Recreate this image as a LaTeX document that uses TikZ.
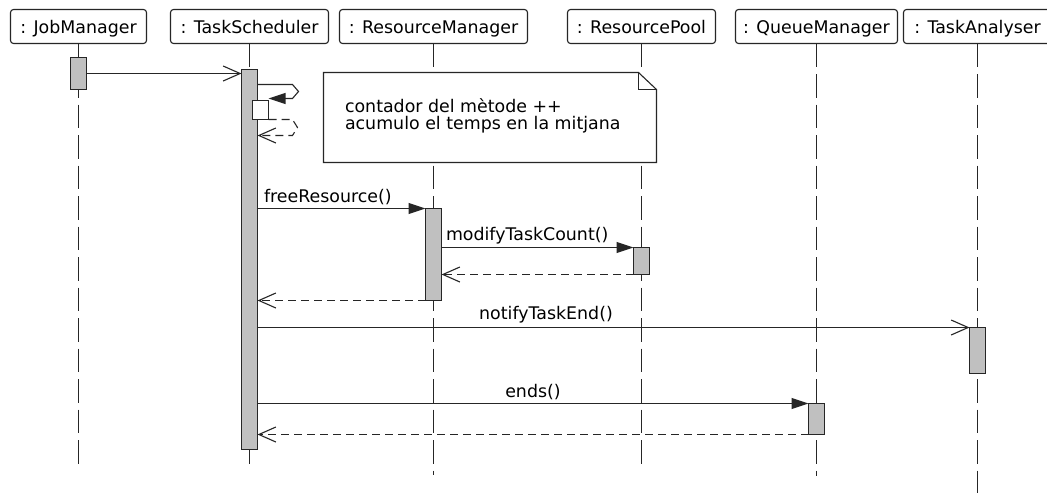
\documentclass[tikz,border=0pt]{standalone}
\usepackage{fontspec}
\newfontfamily\umlfont{DejaVu Sans}
\usetikzlibrary{arrows.meta,calc}
\definecolor{actgray}{RGB}{192,192,192}
\colorlet{ink}{black!85}

\begin{document}
\begin{tikzpicture}[x=1pt,y=-1pt,
  every node/.style={font=\umlfont\fontsize{17.4}{17.4}\selectfont, text=black, outer sep=0pt},
  head/.style={draw=ink, line width=1.1pt, rounded corners=3pt, fill=white,
    minimum height=34pt, inner sep=0pt, text height=18pt, text depth=4pt},
  actbox/.style={draw=ink, line width=1.1pt, fill=actgray, inner sep=0pt, minimum width=16pt},
  lifeline/.style={draw=ink, line width=1.1pt, dash pattern=on 23.5pt off 7pt},
  call/.style={draw=ink, line width=1.1pt, -{Triangle[length=17pt,width=11pt]}},
  async/.style={draw=ink, line width=1.1pt, -{Straight Barb[length=17pt,width=15pt]}},
  reply/.style={draw=ink, line width=1.1pt, dash pattern=on 8pt off 5pt,
    -{Straight Barb[length=17pt,width=15pt]}},
  lbl/.style={anchor=base west, inner sep=0pt},
  clbl/.style={anchor=base, inner sep=0pt}
]
\useasboundingbox (0,0) rectangle (1047,493);
\fill[white] (0,0) rectangle (1047,493);
\clip (0,0) rectangle (1047,493);

% participants
\node[head, minimum width=136pt] (jm) at (78.5,26.5)  {: JobManager};
\node[head, minimum width=158pt] (ts) at (249.5,26.5) {: TaskScheduler};
\node[head, minimum width=188pt] (rm) at (433.5,26.5) {: ResourceManager};
\node[head, minimum width=148pt] (rp) at (641.5,26.5) {: ResourcePool};
\node[head, minimum width=162pt] (qm) at (816.5,26.5) {: QueueManager};
\node[head, minimum width=148pt] (ta) at (977.5,26.5) {: TaskAnalyser};

% lifelines
\draw[lifeline] (jm.south) -- (jm.south |- 0,467);
\draw[lifeline] (ts.south) -- (ts.south |- 0,466);
\draw[lifeline] (rm.south) -- (rm.south |- 0,475);
\draw[lifeline] (rp.south) -- (rp.south |- 0,466);
\draw[lifeline] (qm.south) -- (qm.south |- 0,476);
\draw[lifeline] (ta.south) -- (ta.south |- 0,493);

% activations
\node[actbox, minimum height=32pt]   (jmA) at (78.5,73.5) {};
\node[actbox, minimum height=380pt]  (tsA) at (249.5,259.5) {};
\node[actbox, minimum height=19pt, fill=white] (tsB) at (260.5,110) {};
\node[actbox, minimum height=92pt]   (rmA) at (433.5,254.5) {};
\node[actbox, minimum height=27pt]   (rpA) at (641.5,261) {};
\node[actbox, minimum height=46pt]   (taA) at (977.5,350.5) {};
\node[actbox, minimum height=31pt]   (qmA) at (816.5,419) {};

% note
\node[fill=white, minimum width=333pt, minimum height=90pt, inner sep=0pt] (note) at (490,117.5) {};
\draw[ink, line width=1.1pt] (note.north west) -- ($(note.north east)+(-18pt,0pt)$)
  -- ($(note.north east)+(0pt,-17pt)$) -- (note.south east) -- (note.south west) -- cycle;
\draw[ink, line width=1.1pt] ($(note.north east)+(-18pt,0pt)$) |- ($(note.north east)+(0pt,-17pt)$);
\node[lbl] (noteA) at (345,112) {contador del mètode ++};
\node[lbl] (noteB) at (345,129) {acumulo el temps en la mitjana};

% messages
\draw[async] (jmA.east) -- (tsA.west |- jmA.east);

\draw[call] (tsA.east |- 0,84.5) -- (292.5,84.5) -- (298.5,91.5) -- (292.5,98.5) -- (tsB.east |- 0,98.5);
\draw[reply] (tsB.south east) -- (292.5,119.5) -- (297.5,127.5) -- (292.5,135.5) -- (tsA.east |- 0,135.5);

\draw[call] (tsA.east |- rmA.north) -- (rmA.north west);
\node[lbl] (lFree) at (264,202) {freeResource()};

\draw[call] (rmA.east |- rpA.north) -- (rpA.north west);
\node[lbl] (lModify) at (446,240.7) {modifyTaskCount()};

\draw[reply] (rpA.south west) -- (rmA.east |- rpA.south);
\draw[reply] (rmA.south west) -- (tsA.east |- rmA.south);

\draw[async] (tsA.east |- taA.north) -- (taA.north west);
\node[clbl] (lNotify) at (546,319) {notifyTaskEnd()};

\draw[call] (tsA.east |- qmA.north) -- (qmA.north west);
\node[clbl] (lEnds) at (533,397) {ends()};

\draw[reply] (qmA.south west) -- (tsA.east |- qmA.south);
\end{tikzpicture}
\end{document}
